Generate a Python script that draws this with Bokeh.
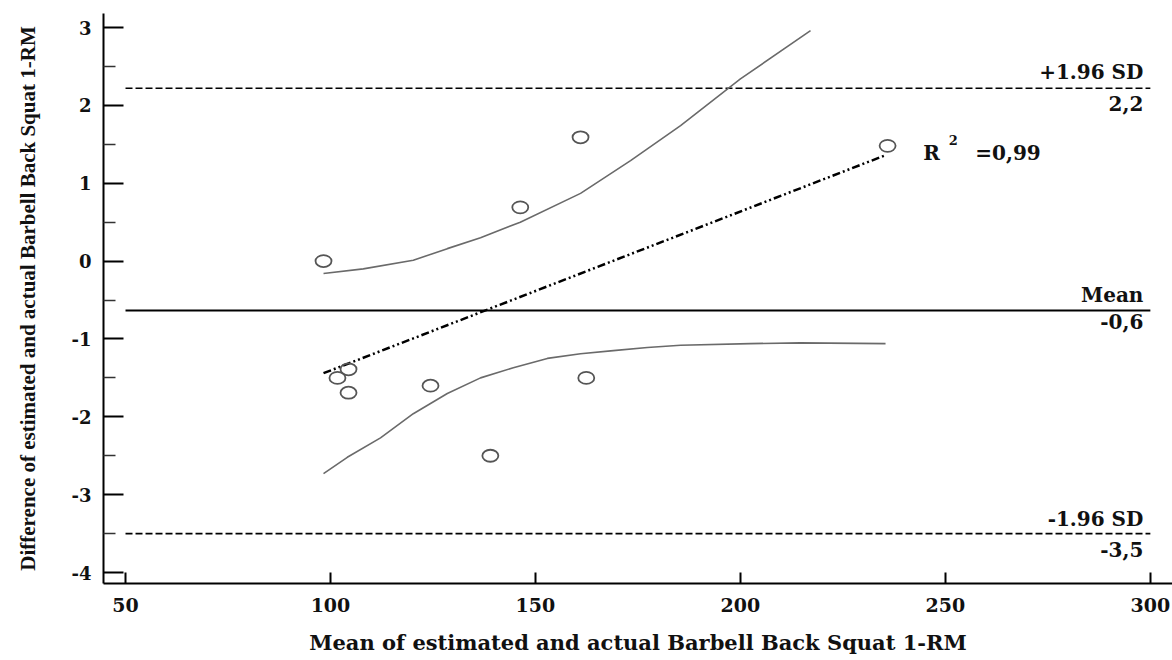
from bokeh.plotting import figure
from bokeh.models import FixedTicker, Label, Range1d, ColumnDataSource
from bokeh.embed import file_html
from bokeh.resources import INLINE

# ---- data ----
pts_x = [98.3, 146.3, 161.0, 235.9, 104.4, 101.7, 104.4, 124.4, 162.4, 139.0]
pts_y = [0.0, 0.69, 1.59, 1.48, -1.39, -1.50, -1.69, -1.60, -1.50, -2.50]

mean_diff = -0.635
upper_loa = 2.22
lower_loa = -3.50
line_x = [50, 300]

reg_x = [98.3, 235.4]
reg_y = [-1.44, 1.36]

ci_up_x = [98.3, 108.0, 120.2, 128.5, 136.6, 146.3, 161.0, 173.2, 185.4, 200.0, 217.1]
ci_up_y = [-0.16, -0.10, 0.01, 0.16, 0.30, 0.50, 0.87, 1.29, 1.74, 2.34, 2.96]

ci_lo_x = [98.3, 104.1, 112.2, 120.2, 128.5, 136.6, 144.6, 152.9, 161.0, 169.0, 177.3,
           185.4, 202.4, 214.6, 235.4]
ci_lo_y = [-2.73, -2.52, -2.27, -1.96, -1.70, -1.50, -1.37, -1.25, -1.19, -1.15, -1.11,
           -1.08, -1.06, -1.05, -1.06]

x_ticks = [50, 100, 150, 200, 250, 300]
y_ticks = [-4, -3, -2, -1, 0, 1, 2, 3]
y_minor = [-3.5, -2.5, -1.5, -0.5, 0.5, 1.5, 2.5]
y_tick_labels = ["-4", "-3", "-2", "-1", "0", "1", "2", "3"]

SERIF = "Liberation Serif"
WIDE = "DejaVu Serif"

p = figure(width=1172, height=660, output_backend="svg", toolbar_location=None,
           x_range=Range1d(44.63, 305.4), y_range=Range1d(-4.141, 3.18),
           min_border_left=103, min_border_right=0, min_border_top=13, min_border_bottom=77)
p.outline_line_color = None
p.xgrid.visible = False
p.ygrid.visible = False
p.background_fill_color = "white"
p.border_fill_color = "white"

# axes
xa = p.xaxis[0]
xa.ticker = FixedTicker(ticks=x_ticks, minor_ticks=[])
xa.axis_line_width = 2
xa.axis_line_color = "black"
xa.major_tick_in = 11
xa.major_tick_out = 0
xa.major_tick_line_width = 2
xa.minor_tick_line_color = None
xa.major_label_standoff = 14
xa.major_label_text_font = WIDE
xa.major_label_text_font_style = "bold"
xa.major_label_text_font_size = "19px"
xa.major_label_text_color = "#111111"
xa.axis_label = "Mean of estimated and actual Barbell Back Squat 1-RM"
xa.axis_label_text_font = WIDE
xa.axis_label_text_font_style = "bold"
xa.axis_label_text_font_size = "21px"
xa.axis_label_text_color = "#111111"
xa.axis_label_standoff = 15

ya = p.yaxis[0]
ya.ticker = FixedTicker(ticks=y_ticks, minor_ticks=y_minor)
ya.major_label_overrides = {t: s for t, s in zip(y_ticks, y_tick_labels)}
ya.axis_line_width = 2
ya.axis_line_color = "black"
ya.major_tick_in = 20
ya.major_tick_out = 0
ya.major_tick_line_width = 2
ya.minor_tick_in = 12
ya.minor_tick_out = 0
ya.minor_tick_line_width = 1.5
ya.minor_tick_line_color = "#333333"
ya.major_label_standoff = 12
ya.major_label_text_font = WIDE
ya.major_label_text_font_style = "bold"
ya.major_label_text_font_size = "18px"
ya.major_label_text_color = "#111111"
ya.axis_label = "Difference of estimated and actual Barbell Back Squat 1-RM"
ya.axis_label_text_font = SERIF
ya.axis_label_text_font_style = "bold"
ya.axis_label_text_font_size = "21px"
ya.axis_label_text_color = "#111111"
ya.axis_label_standoff = 29

# limits of agreement and mean
p.line(line_x, [upper_loa, upper_loa], line_color="black", line_width=1.6, line_dash="7 3")
p.line(line_x, [lower_loa, lower_loa], line_color="black", line_width=1.6, line_dash="7 3")
p.line(line_x, [mean_diff, mean_diff], line_color="black", line_width=2)

# confidence curves
p.line(ci_up_x, ci_up_y, line_color="#6a6a6a", line_width=1.6)
p.line(ci_lo_x, ci_lo_y, line_color="#6a6a6a", line_width=1.6)

# regression line
p.line(reg_x, reg_y, line_color="black", line_width=2.5, line_dash="8 3 2 3 2 3")

# points
src = ColumnDataSource(dict(x=pts_x, y=pts_y))
p.ellipse(x="x", y="y", width=16, height=12, width_units="screen", height_units="screen",
          source=src, fill_color=None, line_color="#555555", line_width=1.8)

def lab(x, y, text, size="20px", align="right"):
    p.add_layout(Label(x=x, y=y, text=text, text_align=align, text_baseline="middle",
                       text_font=WIDE, text_font_style="bold", text_font_size=size,
                       text_color="#111111"))

lab(298.3, 2.43, "+1.96 SD")
lab(298.3, 2.02, "2,2")
lab(298.3, -0.44, "Mean")
lab(298.3, -0.78, "-0,6")
lab(298.3, -3.31, "-1.96 SD")
lab(298.3, -3.70, "-3,5")
lab(244.6, 1.382, "R", align="left")
lab(250.8, 1.549, "2", size="13px", align="left")
lab(257.3, 1.382, "=0,99", align="left")

open("out.html", "w").write(file_html(p, INLINE))
